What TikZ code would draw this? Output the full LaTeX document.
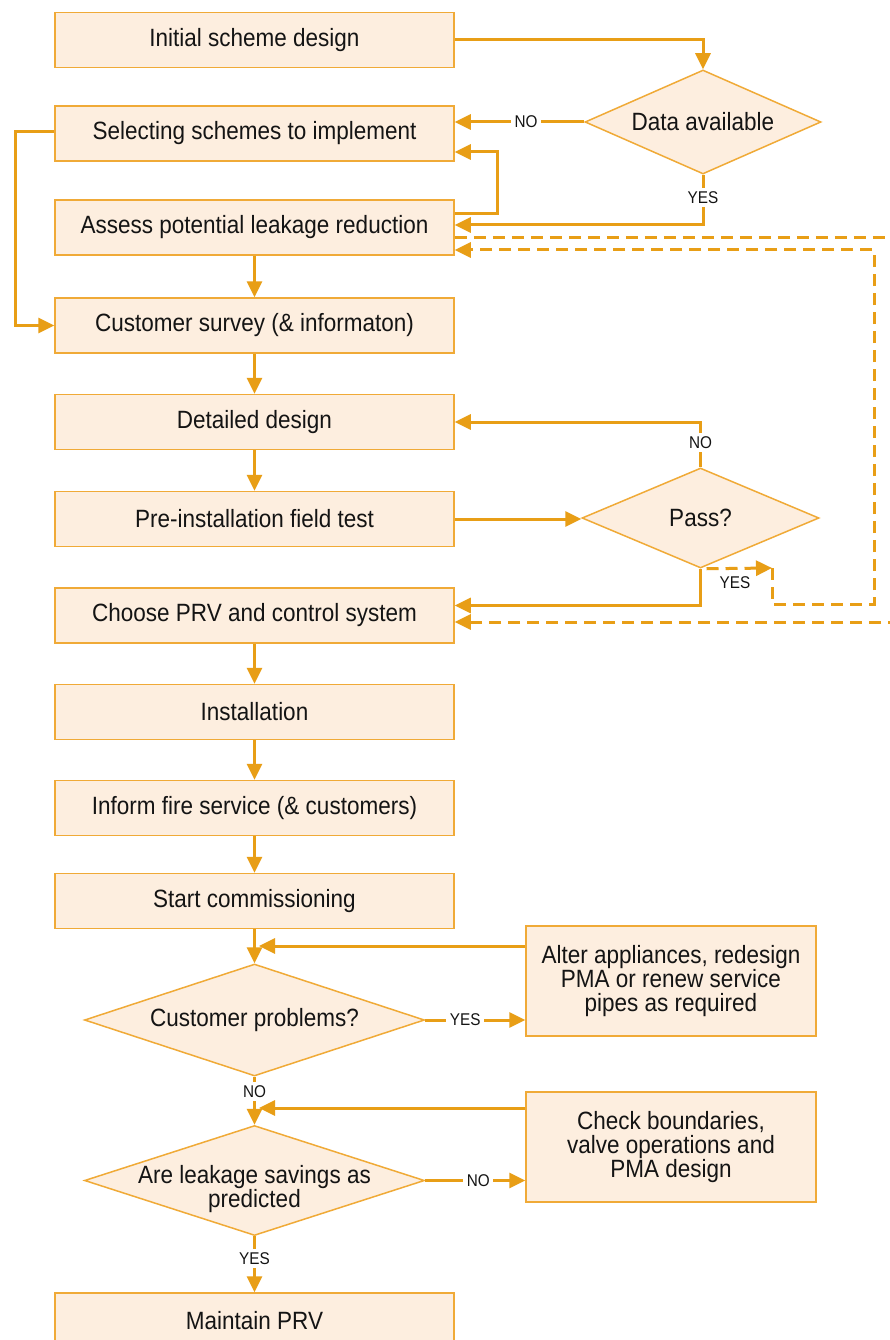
\documentclass[tikz,border=0pt]{standalone}
\usepackage{fontspec}
\setmainfont{Liberation Sans}[FakeStretch=0.9]
\usetikzlibrary{arrows.meta,shapes.geometric,calc}
\definecolor{flowline}{RGB}{232,158,22}
\definecolor{boxedge}{RGB}{240,170,55}
\definecolor{boxfill}{RGB}{253,238,223}
\definecolor{ink}{RGB}{20,20,20}

\begin{document}
\begin{tikzpicture}[x=1pt,y=-1pt,
  every node/.style={font=\fontsize{25}{24}\selectfont, text=ink},
  stepbox/.style={draw=boxedge, fill=boxfill, line width=1.5pt,
    minimum width=399pt, minimum height=55pt, inner sep=0pt, align=center},
  sidebox/.style={stepbox, minimum width=290pt, minimum height=110pt},
  decision/.style={diamond, draw=boxedge, fill=boxfill, line width=1.5pt,
    inner sep=0pt, shape aspect=2.4, align=center},
  arr/.style={draw=flowline, line width=3pt, -{Triangle[length=16pt,width=15pt]}},
  dasharr/.style={arr, dash pattern=on 12pt off 7pt},
  lab/.style={fill=white, font=\fontsize{17}{17}\selectfont, inner sep=3.5pt}
]
% canvas
\fill[white] (0,0) rectangle (890,1340);
\useasboundingbox (0,0) rectangle (890,1340);

% main column of steps
\node[stepbox] (init)     at (254.5,40)   {Initial scheme design};
\node[stepbox] (sel)      at (254.5,133.5){Selecting schemes to implement};
\node[stepbox] (assess)   at (254.5,227.5){Assess potential leakage reduction};
\node[stepbox] (survey)   at (254.5,325.5){Customer survey (\& informaton)};
\node[stepbox] (detail)   at (254.5,422)  {Detailed design};
\node[stepbox] (pretest)  at (254.5,519)  {Pre-installation field test};
\node[stepbox] (choose)   at (254.5,615.5){Choose PRV and control system};
\node[stepbox] (install)  at (254.5,712)  {Installation};
\node[stepbox] (inform)   at (254.5,808)  {Inform fire service (\& customers)};
\node[stepbox] (start)    at (254.5,901)  {Start commissioning};
\node[stepbox] (maintain) at (254.5,1320.5){Maintain PRV};

% decisions
\node[decision, minimum width=236pt, minimum height=104pt] (data) at (703,122) {Data available};
\node[decision, minimum width=237pt, minimum height=100pt] (pass) at (700.5,518) {Pass?};
\node[decision, minimum width=340pt, minimum height=112pt] (prob) at (254.5,1020) {Customer problems?};
\node[decision, minimum width=340pt, minimum height=110pt,
  label={[align=center, yshift=-9pt]center:Are leakage savings as\\predicted}] (leak) at (254.5,1180.5) {};

% remedial actions
\node[sidebox] (alter) at (671,981)  {Alter appliances, redesign\\PMA or renew service\\pipes as required};
\node[sidebox] (check) at (671,1147) {Check boundaries,\\valve operations and\\PMA design};

% waypoints
\coordinate (loopR) at (497,214);
\coordinate (loopL) at (15,132);
\coordinate (yb) at (772,568);
\coordinate (yc) at (874,604);
\coordinate (offA) at (900,238);
\coordinate (offB) at (900,622);
\coordinate (m1) at (259,946);
\coordinate (m2) at (259,1108);

% top section
\draw[arr] (init.east) -| (data.north);
\draw[arr] (data.west) -- (data.west -| sel.east) node[lab,pos=0.45]{NO};
\draw[arr] (data.south) |- ([yshift=2.5pt]assess.east) node[lab,pos=0.225]{YES};
\draw[arr] ([yshift=13.5pt]assess.east) -- (loopR) |- ([yshift=-18.5pt]sel.east);
\draw[arr] (sel.west |- loopL) -- (loopL) |- (survey.west);
\draw[arr] (assess.south) -- (survey.north);
\draw[arr] (survey.south) -- (detail.north);
\draw[arr] (detail.south) -- (pretest.north);

% field test decision
\draw[arr] (pretest.east) -- (pretest.east -| pass.west);
\draw[arr] (pass.north) |- (detail.east) node[lab,pos=0.27]{NO};
\draw[arr] (pass.south) |- ([yshift=10pt]choose.east);
\node[lab, fill=none] (passyes) at (735,583) {YES};

% dashed routes
\draw[dasharr] ([xshift=6pt]pass.south) -- (yb);
\draw[dasharr] (yb) |- (yc) |- ([yshift=-22.5pt]assess.east);
\draw[dasharr, -] ([yshift=-10.5pt]assess.east) -- (offA);
\draw[dasharr] (offB) -- ([yshift=-6.5pt]choose.east);

% lower column
\draw[arr] (choose.south) -- (install.north);
\draw[arr] (install.south) -- (inform.north);
\draw[arr] (inform.south) -- (start.north);
\draw[arr] (start.south) -- (prob.north);
\draw[arr] (prob.east) -- (prob.east -| alter.west) node[lab,pos=0.4]{YES};
\draw[arr] (alter.west |- m1) -- (m1);
\draw[arr] (prob.south) -- (leak.north) node[lab,pos=0.3]{NO};
\draw[arr] (leak.east) -- (leak.east -| check.west) node[lab,pos=0.53]{NO};
\draw[arr] (check.west |- m2) -- (m2);
\draw[arr] (leak.south) -- (maintain.north) node[lab,pos=0.4]{YES};
\end{tikzpicture}
\end{document}
